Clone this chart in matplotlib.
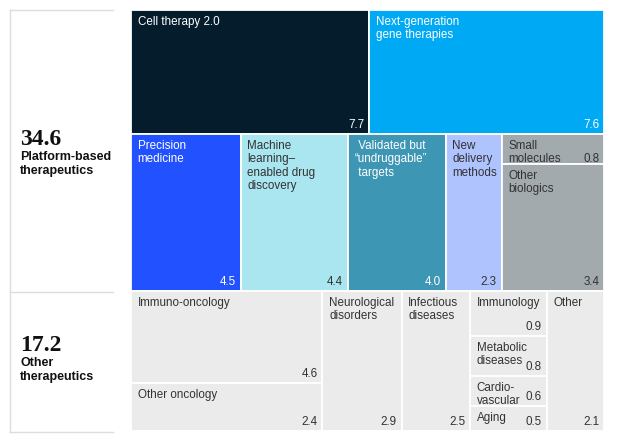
import matplotlib.pyplot as plt
from matplotlib.patches import Rectangle

plt.rcParams['font.family'] = ['Liberation Sans', 'DejaVu Sans']

# group totals shown on the left
group_names = ['Platform-based\ntherapeutics', 'Other\ntherapeutics']
group_totals = [34.6, 17.2]

# platform-based, first row
top_labels = ['Cell therapy 2.0', 'Next-generation\ngene therapies']
top_values = [7.7, 7.6]
top_columns = [0, 1]

# platform-based, second row
mid_labels = ['Precision\nmedicine', 'Machine\nlearning\u2013\nenabled drug\ndiscovery',
              ' Validated but\n\u201cundruggable\u201d\n targets', 'New\ndelivery\nmethods',
              'Small\nmolecules', 'Other\nbiologics']
mid_values = [4.5, 4.4, 4.0, 2.3, 0.8, 3.4]
mid_columns = [0, 1, 2, 3, 4, 4]

# other therapeutics
bottom_labels = ['Immuno-oncology', 'Other oncology', 'Neurological\ndisorders',
                 'Infectious\ndiseases', 'Immunology', 'Metabolic\ndiseases',
                 'Cardio-\nvascular', 'Aging', 'Other']
bottom_values = [4.6, 2.4, 2.9, 2.5, 0.9, 0.8, 0.6, 0.5, 2.1]
bottom_columns = [0, 0, 1, 2, 3, 3, 3, 3, 4]

top_colors = ['#051c2c', '#00a9f4']
mid_colors = ['#2251ff', '#aae6f0', '#3c96b4', '#afc3ff', '#a2aaad', '#a2aaad']
bottom_colors = ['#ebebeb'] * len(bottom_values)
DARK = '#333333'
top_text = ['white', 'white']
mid_text = ['white', DARK, 'white', DARK, DARK, DARK]
bottom_text = [DARK] * len(bottom_values)

FS = 8.4
LS = 1.15


def slice_row(values, columns, y0):
    """slice-and-dice: columns across, cells stacked inside each column"""
    row_total = sum(values)
    cells = []
    x = 0.0
    for c in sorted(set(columns)):
        idx = [i for i, col in enumerate(columns) if col == c]
        col_total = sum(values[i] for i in idx)
        w = col_total / row_total
        y = y0
        for i in idx:
            h = values[i] / col_total * row_total
            cells.append((x, y, w, h))
            y += h
        x += w
    return cells, y0 + row_total


def draw_row(ax, labels, values, columns, colors, text_colors, y0, inline=()):
    cells, y_end = slice_row(values, columns, y0)
    for (x, y, w, h), lab, v, fc, tc in zip(cells, labels, values, colors, text_colors):
        ax.add_patch(Rectangle((x, y), w, h, facecolor=fc, edgecolor='white',
                               linewidth=1.3))
        ax.annotate(lab, (x, y), xytext=(4.8, -4.3), textcoords='offset points',
                    ha='left', va='top', fontsize=FS, color=tc, linespacing=LS)
        if lab in inline:
            ax.annotate('\n%.1f' % v, (x + w, y), xytext=(-3.5, -4.3),
                        textcoords='offset points', ha='right', va='top',
                        fontsize=FS, color=tc, linespacing=LS)
        else:
            ax.annotate('%.1f' % v, (x + w, y + h), xytext=(-3.5, 4),
                        textcoords='offset points', ha='right', va='baseline',
                        fontsize=FS, color=tc)
    return y_end


fig = plt.figure(figsize=(6.18, 4.41), dpi=100)
ax = fig.add_axes([131 / 618, 10 / 441, 473 / 618, 421 / 441])

y = draw_row(ax, top_labels, top_values, top_columns, top_colors, top_text, 0.0)
y = draw_row(ax, mid_labels, mid_values, mid_columns, mid_colors, mid_text, y,
             inline=('Small\nmolecules',))
split = y
y = draw_row(ax, bottom_labels, bottom_values, bottom_columns, bottom_colors,
             bottom_text, y)
total = y

ax.set_xlim(0, 1)
ax.set_ylim(total, 0)
ax.axis('off')

# left panel with group totals
lax = fig.add_axes([10 / 618, 9 / 441, 103 / 618, 422 / 441])
lax.set_xlim(0, 1)
lax.set_ylim(total, 0)
lax.axis('off')
line_kw = dict(color='#dddddd', linewidth=1, clip_on=False)
lax.plot([0, 0], [0, total], **line_kw)
for yy in [0, split, total]:
    lax.plot([0, 1], [yy, yy], **line_kw)

bounds = [(0, split), (split, total)]
shifts = [4.5, 8]
for (a, b), name, num, s in zip(bounds, group_names, group_totals, shifts):
    mid = (a + b) / 2
    lax.annotate('%.1f' % num, (0.1, mid), xytext=(0, s), textcoords='offset points',
                 ha='left', va='baseline', fontsize=17, fontweight='bold',
                 family='Liberation Serif', color='#111111')
    lax.annotate(name, (0.1, mid), xytext=(0, s - 4.7), textcoords='offset points',
                 ha='left', va='top', fontsize=9, fontweight='bold',
                 color='#111111', linespacing=1.24)

fig.savefig('out.png', dpi=100)
